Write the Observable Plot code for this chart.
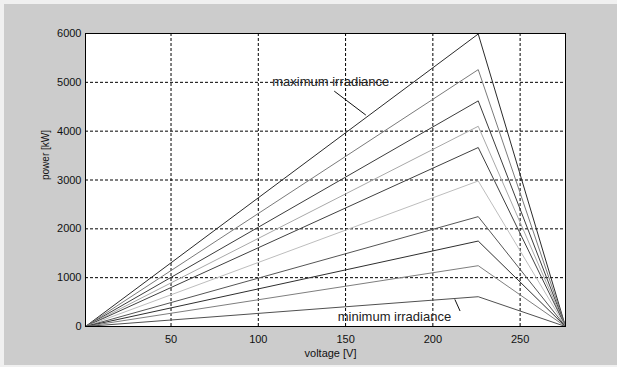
<!DOCTYPE html>
<html>
<head>
<meta charset="utf-8">
<script src="https://cdn.jsdelivr.net/npm/d3@7"></script>
<script src="https://cdn.jsdelivr.net/npm/@observablehq/plot@0.6"></script>
<style>
  html, body { margin: 0; padding: 0; background: #f0f0f0; }
  #chart { position: absolute; left: 4px; top: 4px; }
  svg { display: block; }
</style>
</head>
<body>
<div id="chart"></div>
<script>
// Data
const startVoltage = 1;
const peakVoltage = 226;
const endVoltage = 276;
const peakPowers = [5990, 5260, 4620, 4100, 3665, 2980, 2250, 1750, 1245, 610];
const seriesColors = ["#2a2a2a", "#7a7a7a", "#3c3c3c", "#a8a8a8", "#404040", "#bdbdbd", "#555555", "#2e2e2e", "#7e7e7e", "#505050"];
const xTicks = [50, 100, 150, 200, 250];
const yTicks = [0, 1000, 2000, 3000, 4000, 5000, 6000];
const labels = [
  {text: "maximum irradiance", v: 141.5, p: 5020},
  {text: "minimum irradiance", v: 178, p: 200}
];
const pointers = [
  {v1: 143.5, p1: 4820, v2: 161.6, p2: 4330},
  {v1: 212.6, p1: 556, v2: 215.6, p2: 317}
];

const rows = [];
peakPowers.forEach((pk, i) => {
  rows.push({s: i, v: startVoltage, p: 0});
  rows.push({s: i, v: peakVoltage, p: pk});
  rows.push({s: i, v: endVoltage, p: 0});
});

const W = 613, H = 361;
const chart = Plot.plot({
  width: W,
  height: H,
  marginLeft: 81,
  marginRight: 52,
  marginTop: 29,
  marginBottom: 39,
  style: {background: "#cccccc", fontFamily: "Liberation Sans, Arial, sans-serif", fontSize: "11px", color: "#111"},
  x: {domain: [1, 276], ticks: xTicks, label: null},
  y: {domain: [0, 6000], ticks: yTicks, label: null},
  marks: [
    Plot.frame({fill: "white", stroke: null}),
    Plot.gridX(xTicks, {stroke: "#000", strokeOpacity: 1, strokeDasharray: "3,2", strokeWidth: 1}),
    Plot.gridY(yTicks, {stroke: "#000", strokeOpacity: 1, strokeDasharray: "3,2", strokeWidth: 1}),
    Plot.line(rows, {x: "v", y: "p", z: "s", stroke: d => seriesColors[d.s], strokeWidth: 1}),
    Plot.link(pointers, {x1: "v1", y1: "p1", x2: "v2", y2: "p2", stroke: "#111", strokeWidth: 1}),
    Plot.text(labels, {x: "v", y: "p", text: "text", fontSize: 13, fill: "#222"}),
    Plot.frame({stroke: "#000", strokeWidth: 1}),
    Plot.axisX(xTicks, {tickSize: 0, tickPadding: 9, fontSize: 11, fill: "#111", label: null, tickFormat: d => String(d)}),
    Plot.axisY(yTicks, {tickSize: 0, tickPadding: 4, fontSize: 11, fill: "#111", label: null, tickFormat: d => String(d)}),
    Plot.text(["voltage [V]"], {frameAnchor: "bottom", lineAnchor: "middle", dy: 27, dx: 5, fontSize: 11, fill: "#111"}),
    Plot.text(["power [kW]"], {frameAnchor: "left", lineAnchor: "middle", dx: -40, rotate: -90, fontSize: 10, fill: "#111"})
  ]
});
document.getElementById("chart").appendChild(chart);
</script>
</body>
</html>
